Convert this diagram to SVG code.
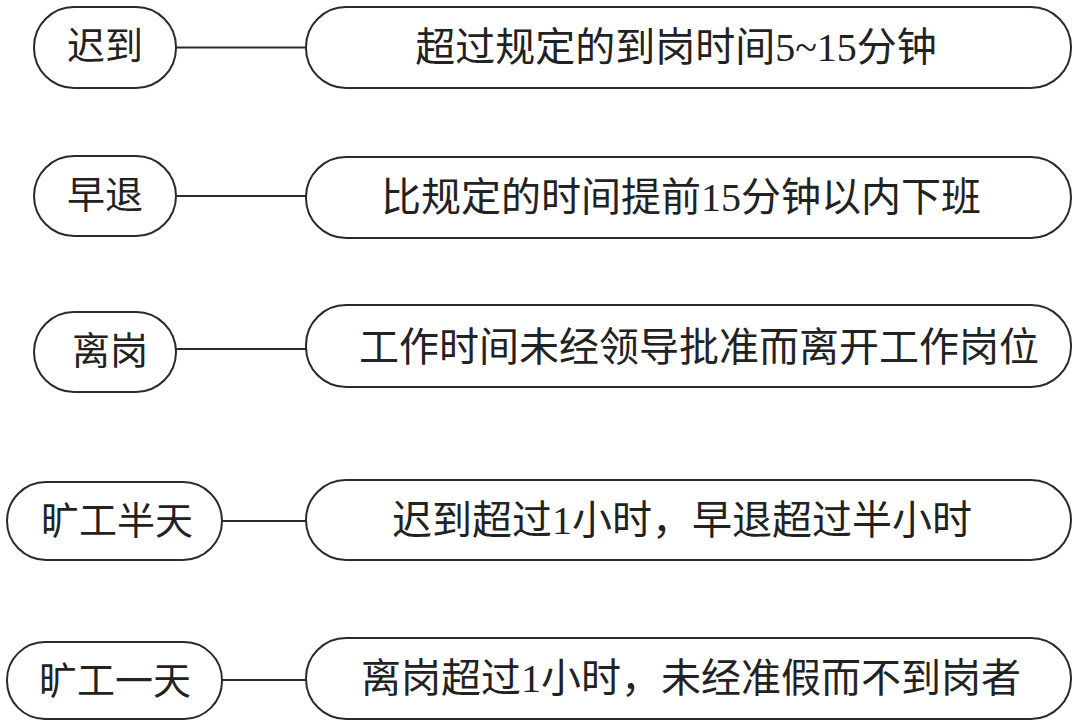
<svg xmlns="http://www.w3.org/2000/svg" width="1079" height="728" viewBox="0 0 1079 728">
<style>
.p{fill:#fff;stroke:#2a2a2a;stroke-width:2}
.t{font-family:"Liberation Serif","Noto Sans CJK SC",serif;font-size:40px;fill:#222;text-anchor:middle;dominant-baseline:central}
.l{font-size:38px}
.c{stroke:#2a2a2a;stroke-width:2;fill:none}
</style>
<rect width="1079" height="728" fill="#fff"/>
<g id="connectors">
<line class="c" x1="176" y1="47.5" x2="306" y2="47.5"/>
<line class="c" x1="176" y1="196" x2="306" y2="196"/>
<line class="c" x1="176" y1="349" x2="306" y2="349"/>
<line class="c" x1="222" y1="521" x2="306" y2="521"/>
<line class="c" x1="222" y1="680" x2="306" y2="680"/>
</g>
<g id="n1"><rect class="p" x="34" y="7" width="142" height="81" rx="40"/><text class="t l" x="105" y="46">迟到</text></g>
<g id="n1d"><rect class="p" x="306" y="7" width="765" height="81" rx="40"/><text class="t" x="676" y="47">超过规定的到岗时间5~15分钟</text></g>
<g id="n2"><rect class="p" x="34" y="156" width="142" height="80" rx="40"/><text class="t l" x="105" y="195">早退</text></g>
<g id="n2d"><rect class="p" x="306" y="157" width="765" height="81" rx="40"/><text class="t" x="681" y="197">比规定的时间提前15分钟以内下班</text></g>
<g id="n3"><rect class="p" x="34" y="312" width="142" height="80" rx="40"/><text class="t l" x="110" y="351">离岗</text></g>
<g id="n3d"><rect class="p" x="306" y="305" width="765" height="82" rx="40"/><text class="t" x="699" y="347">工作时间未经领导批准而离开工作岗位</text></g>
<g id="n4"><rect class="p" x="7" y="482" width="215" height="78" rx="39"/><text class="t l" x="117" y="521">旷工半天</text></g>
<g id="n4d"><rect class="p" x="306" y="480" width="765" height="80" rx="40"/><text class="t" x="682" y="520">迟到超过1小时，早退超过半小时</text></g>
<g id="n5"><rect class="p" x="7" y="642" width="215" height="77" rx="38"/><text class="t l" x="115" y="681">旷工一天</text></g>
<g id="n5d"><rect class="p" x="306" y="638" width="765" height="81" rx="40"/><text class="t" x="691" y="678">离岗超过1小时，未经准假而不到岗者</text></g>
</svg>
